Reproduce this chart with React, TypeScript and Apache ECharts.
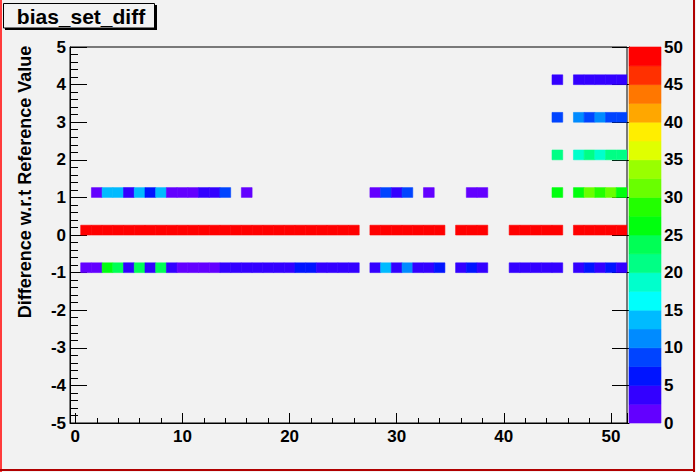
import React, { useEffect, useRef } from "react";
import * as echarts from "echarts";

// x bins 1..51 (bin centres), one array per y row
const xBins: number[] = Array.from({ length: 51 }, (_, i) => i + 1);
const rowYs: number[] = [-1, 0, 1, 2, 3, 4];

const rowMinus1: number[] = [
  1, 1, 26, 24, 4, 24, 4, 24, 4, 2, 2, 2, 2, 4, 4, 4, 4, 4, 4, 4,
  6, 6, 4, 4, 4, 4, 0, 4, 14, 4, 11, 4, 4, 6, 0, 4, 6, 4, 0, 0,
  4, 4, 4, 4, 4, 0, 4, 6, 4, 6, 4,
];
const row0: number[] = [
  50, 50, 50, 50, 50, 50, 50, 50, 50, 50, 50, 50, 50, 50, 50, 50, 50, 50, 50, 50,
  50, 50, 50, 50, 50, 50, 0, 50, 50, 50, 50, 50, 50, 50, 0, 50, 50, 50, 0, 0,
  50, 50, 50, 50, 50, 0, 50, 50, 50, 50, 50,
];
const row1: number[] = [
  0, 1, 14, 14, 4, 14, 6, 14, 2, 2, 2, 4, 4, 9, 0, 1, 0, 0, 0, 0,
  0, 0, 0, 0, 0, 0, 0, 1, 9, 4, 9, 0, 1, 0, 0, 0, 1, 1, 0, 0,
  0, 0, 0, 0, 26, 0, 26, 31, 29, 31, 26,
];
const row2: number[] = [
  0, 0, 0, 0, 0, 0, 0, 0, 0, 0, 0, 0, 0, 0, 0, 0, 0, 0, 0, 0,
  0, 0, 0, 0, 0, 0, 0, 0, 0, 0, 0, 0, 0, 0, 0, 0, 0, 0, 0, 0,
  0, 0, 0, 0, 21, 0, 19, 21, 19, 21, 21,
];
const row3: number[] = [
  0, 0, 0, 0, 0, 0, 0, 0, 0, 0, 0, 0, 0, 0, 0, 0, 0, 0, 0, 0,
  0, 0, 0, 0, 0, 0, 0, 0, 0, 0, 0, 0, 0, 0, 0, 0, 0, 0, 0, 0,
  0, 0, 0, 0, 9, 0, 11, 9, 11, 9, 9,
];
const row4: number[] = [
  0, 0, 0, 0, 0, 0, 0, 0, 0, 0, 0, 0, 0, 0, 0, 0, 0, 0, 0, 0,
  0, 0, 0, 0, 0, 0, 0, 0, 0, 0, 0, 0, 0, 0, 0, 0, 0, 0, 0, 0,
  0, 0, 0, 0, 4, 0, 4, 4, 4, 4, 4,
];
const rows: number[][] = [rowMinus1, row0, row1, row2, row3, row4];

const zMin = 0;
const zMax = 50;
const nLevels = 20;
const yBinHeight = 0.26;

// ROOT "pretty" palette sampled at the 20 contour levels
const palette: string[] = [
  "#6300ff", "#3300ff", "#0014ff", "#0044ff", "#008bff",
  "#00bbff", "#00fffc", "#00ffcc", "#00ff85", "#00ff55",
  "#00ff0e", "#22ff00", "#69ff00", "#99ff00", "#e0ff00",
  "#ffee00", "#ffa700", "#ff7700", "#ff3000", "#ff0000",
];

const levelOf = (v: number) => {
  const k = Math.floor(((v - zMin) / (zMax - zMin)) * nLevels);
  return Math.max(0, Math.min(nLevels - 1, k));
};

const BG = "#f2f2f2";
const FONT = '"Liberation Sans", Arial, Helvetica, sans-serif';

export default function App() {
  const ref = useRef<HTMLDivElement>(null);
  useEffect(() => {
    if (!ref.current) return;
    const chart = echarts.init(ref.current, null, { renderer: "svg" });

    const cells: number[][] = [];
    rows.forEach((row, r) => {
      row.forEach((v, i) => {
        if (v > 0) cells.push([xBins[i], rowYs[r], v]);
      });
    });
    const levels: number[] = Array.from({ length: nLevels }, (_, k) => k);
    const step = (zMax - zMin) / nLevels;

    const labelStyle = {
      color: "#000",
      fontFamily: FONT,
      fontWeight: "bold" as const,
      fontSize: 17,
    };

    const option: any = {
      animation: false,
      backgroundColor: BG,
      grid: [
        {
          left: 70,
          top: 47,
          width: 557,
          height: 376,
          show: true,
          backgroundColor: BG,
          borderColor: "#000",
          borderWidth: 1,
        },
        { left: 629, top: 47, width: 32, height: 376, show: false },
      ],
      xAxis: [
        {
          type: "value",
          gridIndex: 0,
          min: -0.5,
          max: 51.5,
          splitNumber: 5,
          axisLine: { show: true, onZero: false, lineStyle: { color: "#000", width: 1 } },
          axisTick: { show: true, inside: true, length: 10, lineStyle: { color: "#000" } },
          minorTick: { show: true, splitNumber: 5, length: 5, lineStyle: { color: "#000" } },
          splitLine: { show: false },
          axisLabel: {
            ...labelStyle,
            margin: 5,
            formatter: (v: number) => (Math.abs(v % 10) < 1e-9 ? String(v) : ""),
          },
        },
        { type: "value", gridIndex: 1, min: 0, max: 1, show: false },
      ],
      yAxis: [
        {
          type: "value",
          gridIndex: 0,
          min: -5,
          max: 5,
          interval: 1,
          axisLine: { show: true, onZero: false, lineStyle: { color: "#000", width: 1 } },
          axisTick: { show: true, inside: true, length: 17, lineStyle: { color: "#000" } },
          minorTick: { show: true, splitNumber: 5, length: 8, lineStyle: { color: "#000" } },
          splitLine: { show: false },
          axisLabel: { ...labelStyle, margin: 4 },
        },
        {
          type: "value",
          gridIndex: 1,
          position: "right",
          min: zMin,
          max: zMax,
          interval: 5,
          axisLine: { show: true, lineStyle: { color: "#000", width: 1 } },
          axisTick: { show: true, inside: true, length: 17, lineStyle: { color: "#000" } },
          splitLine: { show: false },
          axisLabel: { ...labelStyle, margin: 3 },
        },
      ],
      series: [
        {
          type: "custom",
          xAxisIndex: 0,
          yAxisIndex: 0,
          data: cells,
          encode: { x: 0, y: 1 },
          clip: true,
          renderItem: (params: any, api: any) => {
            const x = api.value(0);
            const y = api.value(1);
            const v = api.value(2);
            const p0 = api.coord([x - 0.5, y + yBinHeight]);
            const p1 = api.coord([x + 0.5, y]);
            const c = palette[levelOf(v)];
            return {
              type: "rect",
              shape: { x: p0[0], y: p0[1], width: p1[0] - p0[0], height: p1[1] - p0[1] },
              style: { fill: c, stroke: c, lineWidth: 0.6 },
            };
          },
        },
        {
          type: "custom",
          xAxisIndex: 1,
          yAxisIndex: 1,
          data: levels.map((k) => [k]),
          renderItem: (params: any, api: any) => {
            const k = api.value(0);
            const p0 = api.coord([0, zMin + (k + 1) * step]);
            const p1 = api.coord([1, zMin + k * step]);
            const c = palette[k];
            return {
              type: "rect",
              shape: { x: p0[0], y: p0[1], width: p1[0] - p0[0], height: p1[1] - p0[1] },
              style: { fill: c, stroke: c, lineWidth: 0.6 },
            };
          },
        },
      ],
      graphic: [
        { type: "rect", shape: { x: 0, y: 0, width: 2, height: 472 }, style: { fill: "#ff3b3b" }, silent: true },
        { type: "rect", shape: { x: 693, y: 0, width: 2, height: 472 }, style: { fill: "#b00000" }, silent: true },
        { type: "rect", shape: { x: 0, y: 469, width: 695, height: 2 }, style: { fill: "#b00000" }, silent: true },
        { type: "rect", shape: { x: 5, y: 5, width: 152, height: 25 }, style: { fill: "#000" }, silent: true },
        {
          type: "rect",
          shape: { x: 3.5, y: 3.5, width: 151, height: 24.5 },
          style: { fill: BG, stroke: "#000", lineWidth: 1 },
          silent: true,
        },
        {
          type: "text",
          x: 81,
          y: 16.5,
          style: {
            text: "bias_set_diff",
            font: `bold 21px ${FONT}`,
            fill: "#000",
            textAlign: "center",
            textVerticalAlign: "middle",
          },
          silent: true,
        },
        {
          type: "text",
          x: 25,
          y: 182,
          rotation: Math.PI / 2,
          style: {
            text: "Difference w.r.t Reference Value",
            font: `bold 18px ${FONT}`,
            fill: "#000",
            textAlign: "center",
            textVerticalAlign: "middle",
          },
          silent: true,
        },
      ],
    };
    chart.setOption(option);
    return () => chart.dispose();
  }, []);

  return (
    <div
      ref={ref}
      style={{ position: "absolute", left: 0, top: 0, width: 696, height: 472, background: BG }}
    />
  );
}
